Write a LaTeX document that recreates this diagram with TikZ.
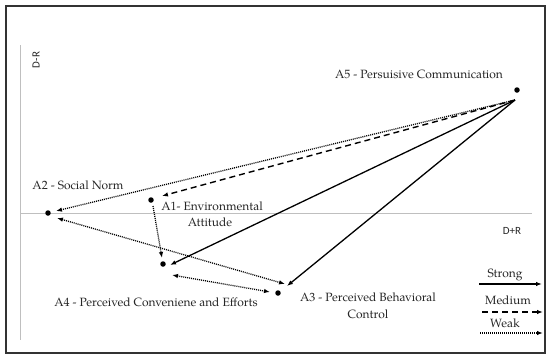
\documentclass[tikz,border=0pt]{standalone}
\usepackage{fontspec}
\setmainfont{TeX Gyre Pagella}
\newfontfamily\axisfont{Carlito}
\usetikzlibrary{arrows.meta}
\begin{document}
\begin{tikzpicture}[x=1pt,y=-1pt,
  tip/.style={-{Latex[length=6pt,width=4.5pt]}},
  bitip/.style={{Latex[length=6pt,width=4.5pt]}-{Latex[length=6pt,width=4.5pt]}},
  strong/.style={tip,line width=1.3pt},
  medium/.style={tip,line width=1.4pt,dash pattern=on 6pt off 4pt},
  weak/.style={tip,line width=1.3pt,dash pattern=on 1pt off 1pt},
  weakbi/.style={bitip,line width=1.3pt,dash pattern=on 1pt off 1pt},
  pt/.style={circle,fill=black,inner sep=0pt,minimum size=5.5pt},
  lbl/.style={font=\fontsize{12}{13}\selectfont,inner sep=0pt,text=black!85},
  axl/.style={font=\axisfont\fontsize{11}{12}\selectfont,inner sep=0pt,text=black!85},
  axis/.style={draw=black!25,line width=0.8pt}]
\fill[white] (0,0) rectangle (550,360);
\draw[black!80,line width=1.3pt] (6,6) rectangle (545,353);
% axes
\coordinate (yt) at (20,45);
\coordinate (yb) at (20,340);
\coordinate (xl) at (20,213);
\coordinate (xr) at (532,213);
\draw[axis] (yt) -- (yb);
\draw[axis] (xl) -- (xr);
\node[axl,rotate=90] (dr) at (36,60) {D-R};
\node[axl] (dpr) at (512,231) {D+R};
% points
\node[pt] (A5) at (517,90) {};
\node[pt] (A2) at (48,213) {};
\node[pt] (A1) at (151,200) {};
\node[pt] (A4) at (163,264) {};
\node[pt] (A3) at (278,293) {};
% labels
\node[lbl] (l5) at (419,74) {A5 - Persuisive Communication};
\node[lbl] (l2) at (78,185) {A2 - Social Norm};
\node[lbl] (l1) at (212,206) {A1- Environmental};
\node[lbl] (l1b) at (210,222) {Attitude};
\node[lbl] (l4) at (156,302) {A4 - Perceived Conveniene and Efforts};
\node[lbl] (l3) at (368,297) {A3 - Perceived Behavioral};
\node[lbl] (l3b) at (368,314) {Control};
% connector end points
\coordinate (s5) at (515,100);
\coordinate (e2) at (56,211);
\coordinate (e1) at (162,196);
\coordinate (e4) at (170,265);
\coordinate (e3) at (287,286);
\coordinate (s1) at (153,206);
\coordinate (e14) at (162,258);
\coordinate (p2) at (57,218);
\coordinate (p3) at (285,284);
\coordinate (q4) at (172,275);
\coordinate (q3) at (270,292);
\draw[weak] (s5) -- (e2);
\draw[medium] (s5) -- (e1);
\draw[strong] (s5) -- (e4);
\draw[strong] (s5) -- (e3);
\draw[weak] (s1) -- (e14);
\draw[weakbi] (p2) -- (p3);
\draw[weakbi] (q4) -- (q3);
% legend
\node[lbl] (ls) at (505,275) {Strong};
\node[lbl] (lm) at (508,300) {Medium};
\node[lbl] (lw) at (505,323) {Weak};
\coordinate (a1) at (479,284); \coordinate (b1) at (542,284);
\coordinate (a2) at (482,312); \coordinate (b2) at (543,312);
\coordinate (a3) at (480,333); \coordinate (b3) at (543,333);
\draw[strong] (a1) -- (b1);
\draw[medium] (a2) -- (b2);
\draw[weak] (a3) -- (b3);
\end{tikzpicture}
\end{document}
